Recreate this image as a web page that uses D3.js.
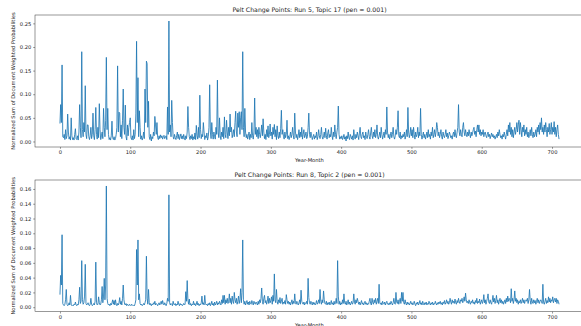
<!DOCTYPE html>
<html><head><meta charset="utf-8">
<script src="https://cdn.jsdelivr.net/npm/d3@7"></script>
<style>body{margin:0;background:#fff}svg{display:block}text{font-family:"DejaVu Sans",sans-serif;fill:#222}</style>
</head><body><svg id="c" width="581" height="326"></svg>
<script>
const titles = ["Pelt Change Points: Run 5, Topic 17 (pen = 0.001)", "Pelt Change Points: Run 8, Topic 2 (pen = 0.001)"];
const xLabel = "Year-Month";
const yLabel = "Normalized Sum of Document Weighted Probabilities";
const xTicks = [0, 100, 200, 300, 400, 500, 600, 700];
const yTicks1 = [0, 0.05, 0.10, 0.15, 0.20, 0.25];
const yTicks2 = [0, 0.02, 0.04, 0.06, 0.08, 0.10, 0.12, 0.14, 0.16];

const s1 = [
.038,.078,.040,.162,.010,.008,.015,.004,.025,.006,.012,.058,.020,.005,.010,.003,.050,.012,.004,.008,
.003,.015,.027,.006,.004,.012,.003,.020,.078,.030,.008,.190,.025,.010,.040,.020,.118,.015,.006,.035,
.035,.010,.004,.012,.030,.006,.015,.060,.012,.004,.025,.072,.015,.005,.030,.008,.080,.025,.004,.012,
.020,.006,.070,.030,.010,.045,.178,.025,.070,.015,.004,.008,.003,.012,.043,.008,.004,.010,.003,.006,
.015,.030,.160,.020,.062,.060,.010,.035,.006,.045,.111,.030,.015,.077,.010,.003,.035,.012,.030,.040,
.050,.008,.004,.012,.003,.025,.006,.015,.060,.212,.040,.135,.010,.065,.030,.005,.012,.003,.008,.020,
.006,.111,.040,.170,.165,.030,.085,.010,.004,.015,.001,.010,.006,.020,.012,.053,.035,.015,.040,.008,
.004,.012,.006,.014,.008,.012,.005,.010,.013,.006,.009,.012,.004,.073,.015,.255,.020,.035,.010,.087,
.040,.010,.005,.015,.008,.004,.012,.020,.006,.015,.004,.010,.016,.006,.012,.005,.015,.008,.003,.012,
.006,.020,.074,.030,.010,.004,.012,.006,.015,.003,.010,.005,.018,.004,.034,.012,.005,.030,.008,.098,
.025,.006,.015,.010,.040,.020,.004,.012,.008,.018,.003,.010,.030,.120,.020,.006,.040,.015,.005,.020,
.010,.005,.030,.015,.130,.020,.008,.050,.012,.004,.020,.010,.030,.006,.052,.015,.008,.045,.020,.006,
.030,.012,.058,.020,.030,.008,.015,.025,.010,.040,.064,.020,.010,.060,.030,.063,.015,.050,.063,.025,
.190,.030,.010,.070,.020,.008,.015,.005,.012,.020,.004,.015,.008,.040,.012,.005,.020,.092,.015,.030,
.010,.025,.006,.030,.015,.008,.020,.035,.012,.048,.020,.006,.015,.004,.025,.010,.033,.008,.015,.037,
.012,.020,.005,.030,.015,.036,.010,.025,.004,.033,.012,.006,.020,.008,.028,.066,.015,.025,.010,.005,
.020,.008,.015,.045,.006,.012,.004,.010,.020,.008,.015,.030,.012,.005,.060,.020,.008,.015,.004,.012,
.025,.008,.020,.010,.030,.005,.015,.025,.008,.012,.020,.006,.010,.030,.060,.015,.008,.020,.012,.004,
.010,.015,.005,.012,.008,.020,.004,.010,.025,.012,.006,.015,.030,.010,.005,.012,.020,.008,.028,.012,
.005,.018,.025,.008,.015,.010,.030,.012,.004,.020,.010,.035,.015,.006,.020,.030,.075,.015,.005,.010,
.006,.012,.004,.008,.015,.005,.010,.001,.012,.006,.020,.008,.004,.015,.010,.005,.012,.003,.025,.010,
.005,.015,.008,.020,.012,.004,.018,.030,.010,.006,.015,.020,.008,.012,.004,.020,.010,.006,.015,.025,
.010,.005,.018,.030,.012,.006,.020,.010,.025,.008,.015,.035,.010,.005,.012,.020,.008,.030,.015,.005,
.012,.020,.008,.025,.015,.073,.020,.008,.015,.005,.012,.020,.008,.015,.030,.010,.005,.012,.025,.015,
.030,.065,.012,.008,.020,.005,.012,.008,.015,.010,.020,.005,.012,.025,.010,.072,.020,.008,.015,.030,
.012,.025,.008,.030,.015,.005,.020,.010,.015,.030,.008,.020,.012,.070,.015,.005,.012,.020,.008,.015,
.005,.012,.020,.008,.025,.010,.015,.005,.020,.012,.030,.008,.015,.025,.010,.020,.040,.030,.012,.020,
.008,.015,.025,.010,.005,.020,.012,.008,.015,.025,.010,.018,.006,.012,.020,.015,.008,.012,.005,.015,
.020,.010,.025,.012,.008,.020,.030,.078,.020,.012,.025,.015,.010,.030,.040,.020,.012,.025,.015,.010,
.020,.012,.025,.015,.008,.020,.012,.018,.025,.030,.015,.022,.010,.025,.035,.020,.035,.015,.025,.012,
.020,.015,.025,.010,.018,.020,.012,.008,.015,.020,.010,.015,.006,.012,.018,.010,.015,.008,.012,.005,
.010,.015,.008,.020,.012,.025,.015,.008,.012,.005,.015,.010,.020,.012,.005,.015,.025,.012,.035,.020,
.040,.015,.030,.010,.025,.008,.020,.030,.015,.025,.040,.020,.035,.045,.015,.040,.025,.010,.030,.020,
.035,.012,.025,.015,.030,.010,.020,.008,.015,.025,.012,.030,.015,.008,.020,.010,.015,.025,.010,.030,
.020,.035,.015,.040,.025,.050,.020,.030,.015,.035,.020,.040,.025,.010,.030,.020,.038,.015,.025,.040,
.015,.030,.020,.042,.015,.030,.010,.025,.035,.015,.005
];

const s2 = [
.017,.043,.030,.098,.005,.003,.002,.004,.010,.024,.004,.002,.003,.006,.003,.016,.004,.002,.003,.002,
.004,.003,.007,.003,.002,.004,.003,.010,.027,.005,.008,.063,.010,.004,.006,.015,.058,.005,.003,.004,
.006,.003,.002,.004,.012,.004,.002,.003,.005,.003,.008,.061,.006,.003,.004,.014,.006,.003,.004,.010,
.028,.006,.015,.039,.010,.030,.164,.012,.005,.003,.004,.002,.005,.003,.006,.010,.004,.009,.003,.010,
.004,.002,.005,.003,.006,.013,.004,.008,.003,.012,.030,.010,.004,.003,.005,.002,.004,.003,.002,.004,
.003,.002,.004,.003,.002,.003,.002,.005,.010,.078,.030,.091,.010,.018,.005,.003,.004,.002,.003,.005,
.003,.006,.010,.069,.012,.004,.024,.006,.003,.005,.002,.004,.003,.006,.004,.008,.003,.005,.004,.002,
.004,.006,.003,.005,.008,.004,.009,.005,.003,.006,.004,.002,.005,.012,.008,.152,.006,.003,.005,.004,
.002,.008,.004,.003,.005,.002,.004,.003,.008,.004,.002,.005,.003,.004,.002,.003,.005,.003,.004,.021,
.008,.036,.010,.004,.011,.003,.005,.002,.004,.003,.008,.003,.005,.002,.004,.008,.003,.005,.002,.004,
.003,.006,.015,.004,.006,.003,.016,.005,.003,.004,.002,.005,.003,.006,.002,.004,.008,.003,.005,.002,
.007,.003,.005,.008,.003,.006,.004,.008,.005,.003,.010,.005,.016,.006,.016,.004,.010,.006,.012,.005,
.008,.018,.006,.012,.004,.015,.008,.005,.020,.010,.006,.012,.004,.008,.015,.005,.010,.025,.006,.020,
.091,.010,.004,.008,.003,.006,.009,.004,.007,.003,.008,.005,.004,.009,.006,.003,.008,.005,.004,.007,
.005,.003,.008,.004,.010,.006,.012,.026,.008,.004,.012,.016,.006,.009,.004,.008,.015,.005,.012,.006,
.009,.014,.004,.016,.008,.045,.010,.006,.024,.008,.004,.010,.006,.013,.005,.008,.012,.004,.007,.005,
.009,.004,.017,.010,.005,.008,.004,.007,.003,.006,.010,.004,.008,.005,.018,.006,.004,.008,.005,.003,
.006,.010,.004,.023,.008,.005,.004,.007,.003,.006,.005,.008,.004,.039,.013,.006,.004,.008,.005,.003,
.007,.004,.006,.003,.005,.009,.004,.006,.010,.005,.024,.008,.004,.010,.006,.022,.010,.005,.004,.008,
.003,.006,.004,.007,.003,.005,.009,.004,.006,.003,.008,.004,.006,.012,.005,.063,.015,.004,.008,.003,
.006,.004,.010,.005,.018,.006,.004,.008,.003,.006,.010,.004,.007,.003,.005,.008,.004,.006,.018,.007,
.004,.010,.006,.012,.008,.004,.007,.003,.006,.009,.004,.006,.003,.005,.008,.004,.006,.003,.005,.004,
.008,.012,.005,.003,.012,.006,.004,.010,.006,.012,.004,.008,.012,.005,.031,.006,.004,.006,.003,.008,
.005,.004,.007,.003,.006,.008,.004,.005,.003,.006,.004,.008,.005,.003,.006,.012,.005,.004,.020,.007,
.005,.010,.004,.008,.012,.005,.020,.008,.020,.006,.004,.010,.005,.003,.007,.004,.006,.003,.005,.008,
.004,.006,.003,.005,.008,.004,.002,.006,.004,.007,.003,.005,.009,.004,.006,.003,.008,.005,.003,.006,
.004,.007,.003,.005,.004,.008,.005,.003,.006,.004,.007,.003,.005,.004,.008,.005,.003,.006,.004,.007,
.005,.008,.004,.006,.003,.007,.005,.009,.004,.006,.010,.005,.008,.004,.006,.012,.007,.004,.010,.006,
.008,.005,.011,.006,.004,.009,.006,.012,.007,.005,.010,.008,.012,.006,.009,.014,.008,.019,.010,.006,
.008,.005,.010,.006,.004,.008,.006,.010,.005,.007,.004,.009,.006,.012,.005,.008,.006,.011,.004,.007,
.010,.005,.008,.017,.006,.010,.004,.008,.012,.018,.007,.005,.010,.006,.004,.009,.016,.007,.012,.005,
.009,.016,.006,.010,.004,.008,.012,.006,.010,.005,.008,.004,.007,.010,.005,.012,.007,.015,.008,.012,
.010,.006,.025,.008,.012,.005,.010,.022,.008,.012,.006,.010,.004,.008,.006,.010,.005,.008,.012,.006,
.010,.005,.009,.010,.008,.012,.005,.010,.024,.009,.004,.012,.007,.005,.010,.006,.009,.004,.008,.012,
.006,.010,.005,.008,.010,.008,.005,.031,.006,.004,.008,.012,.005,.009,.006,.014,.007,.012,.006,.010,
.008,.014,.006,.010,.012,.007,.012,.005,.010,.008,.004
];

const svg = d3.select("#c");
const L = 35, R = 584;
const panels = [
  {data: s1, title: titles[0], yTicks: yTicks1, top: 15, bottom: 147},
  {data: s2, title: titles[1], yTicks: yTicks2, top: 180, bottom: 311.7}
];

panels.forEach(p => {
  const n = p.data.length;
  const xPad = (n - 1) * 0.05;
  const x = d3.scaleLinear().domain([-xPad, n - 1 + xPad]).range([L, R]);
  const [mn, mx] = d3.extent(p.data);
  const yPad = (mx - mn) * 0.05;
  const y = d3.scaleLinear().domain([mn - yPad, mx + yPad]).range([p.bottom, p.top]);
  const g = svg.append("g");

  const xa = g.append("g").attr("transform", `translate(0,${p.bottom})`)
    .call(d3.axisBottom(x).tickValues(xTicks).tickFormat(d3.format("d")).tickSize(1.8).tickPadding(1.6));
  const ya = g.append("g").attr("transform", `translate(${L},0)`)
    .call(d3.axisLeft(y).tickValues(p.yTicks).tickFormat(d3.format(".2f")).tickSize(1.8).tickPadding(1.8));
  [xa, ya].forEach(a => {
    a.select(".domain").remove();
    a.selectAll(".tick line").attr("stroke", "#333").attr("stroke-width", 0.5);
    a.selectAll(".tick text").style("font-size", "5.2px").attr("fill", "#222");
  });

  const line = d3.line().x((d, i) => x(i)).y(d => y(d));
  g.append("path").datum(p.data).attr("d", line)
    .attr("fill", "none").attr("stroke", "#1f77b4").attr("stroke-width", 0.85)
    .attr("stroke-linejoin", "round");

  g.append("rect").attr("x", L).attr("y", p.top).attr("width", R - L).attr("height", p.bottom - p.top)
    .attr("fill", "none").attr("stroke", "#333").attr("stroke-width", 0.5);

  g.append("text").attr("x", (L + R) / 2).attr("y", p.top - 3.2).attr("text-anchor", "middle")
    .style("font-size", "6.2px").text(p.title);
  g.append("text").attr("x", (L + R) / 2).attr("y", p.bottom + 14.8).attr("text-anchor", "middle")
    .style("font-size", "5.2px").text(xLabel);
  const cy = (p.top + p.bottom) / 2;
  g.append("text").attr("transform", `translate(14.5,${cy}) rotate(-90)`).attr("text-anchor", "middle")
    .style("font-size", "5.2px").text(yLabel);
});
</script>
</body></html>
